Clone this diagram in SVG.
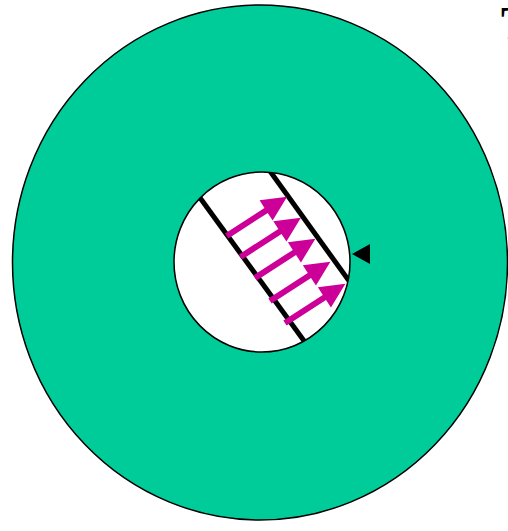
<svg xmlns="http://www.w3.org/2000/svg" width="508" height="531" viewBox="0 0 508 531">
  <style>
    .ring { fill: #00CC99; stroke: #000; stroke-width: 1.5; }
    .hole { fill: #fff; stroke: #000; stroke-width: 1.5; }
    .wall { stroke: #000; stroke-width: 5; fill: none; stroke-linecap: butt; }
    .arrow { fill: #CC0099; }
  </style>
  <defs>
    <clipPath id="holeClip">
      <ellipse cx="262" cy="262" rx="88" ry="90"/>
    </clipPath>
    <path id="arr" d="M0,-3 L47,-3 L47,-12 L72,0 L47,12 L47,3 L0,3 Z"/>
  </defs>
  <rect width="508" height="531" fill="#fff"/>
  <g id="outer">
    <ellipse class="ring" cx="260" cy="262.5" rx="247.5" ry="257.5"/>
  </g>
  <g id="inner">
    <ellipse class="hole" cx="262" cy="262" rx="88" ry="90"/>
  </g>
  <g id="walls" clip-path="url(#holeClip)">
    <line class="wall" x1="190" y1="184" x2="315" y2="356"/>
    <line class="wall" x1="262" y1="160" x2="362" y2="299"/>
  </g>
  <g id="arrows" class="arrow">
    <use href="#arr" transform="translate(226.7,236) rotate(-33)"/>
    <use href="#arr" transform="translate(240.5,257) rotate(-33)"/>
    <use href="#arr" transform="translate(255,278) rotate(-33)"/>
    <use href="#arr" transform="translate(270,301) rotate(-33)"/>
    <use href="#arr" transform="translate(285,323) rotate(-33)"/>
  </g>
  <g id="pointer">
    <polygon points="352,254 370,244 370,264" fill="#000"/>
  </g>
  <text x="501" y="39" font-family="Liberation Serif, serif" font-size="46" font-weight="bold" fill="#000">T</text>
</svg>
